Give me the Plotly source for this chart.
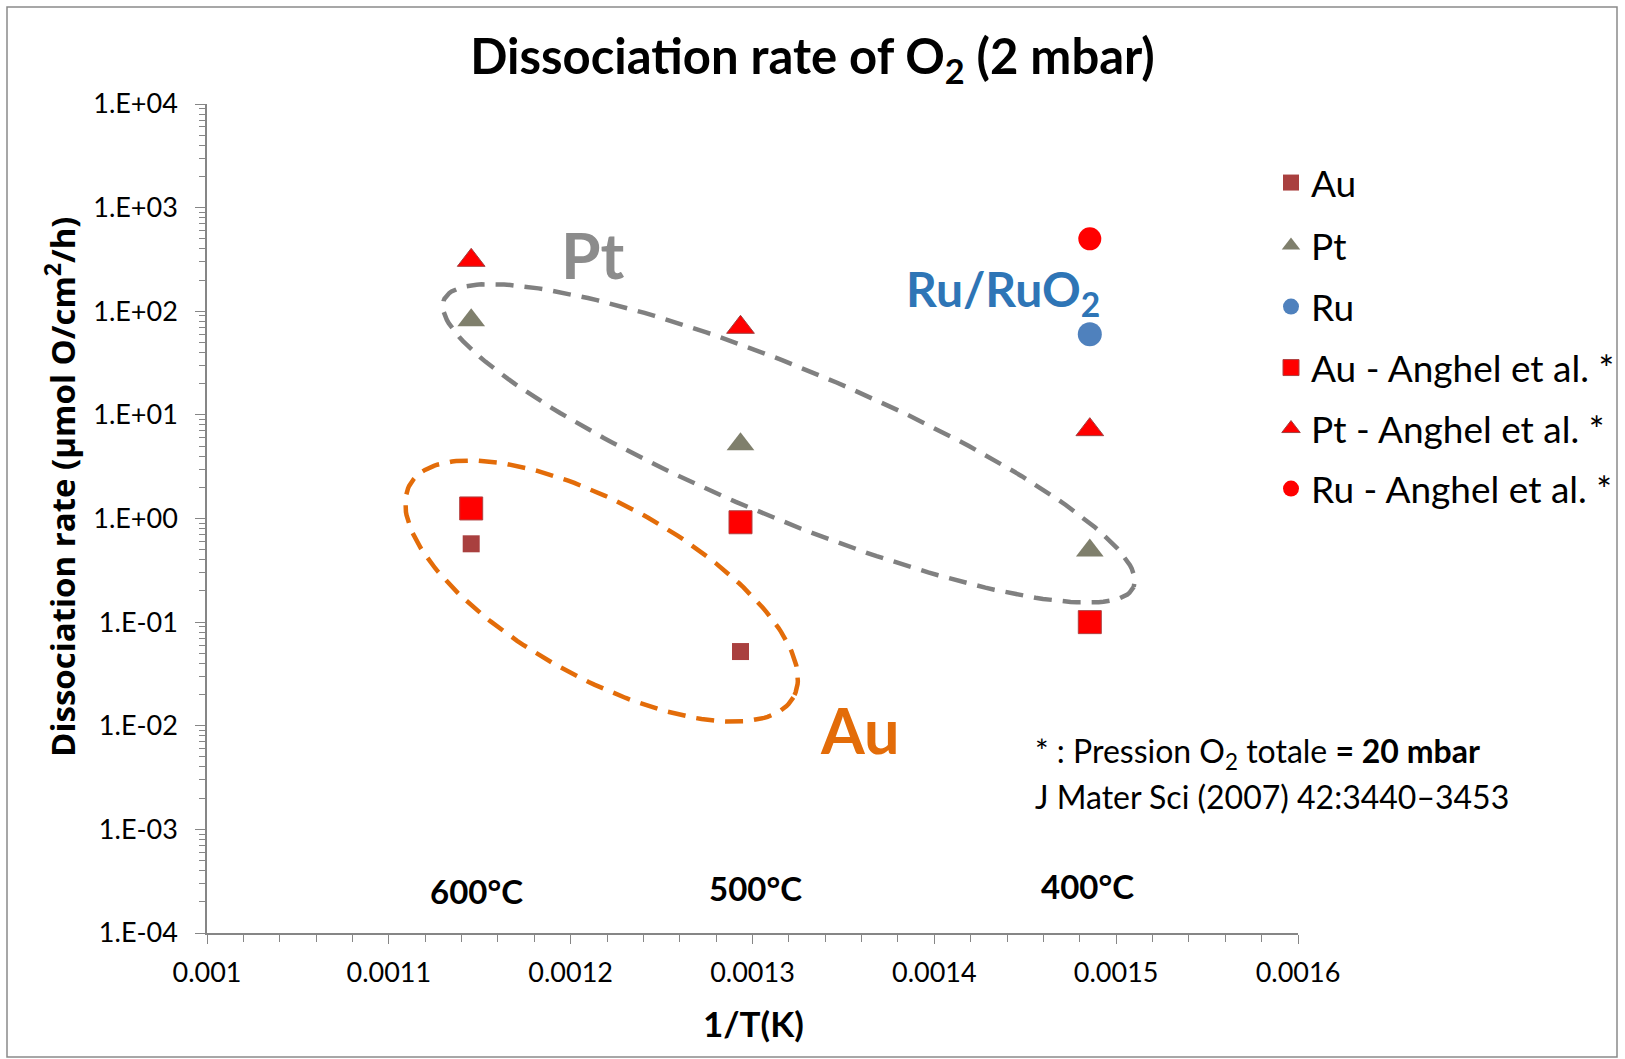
import numpy as np
import plotly.graph_objects as go

# ---------------- data ----------------
inv_T = [0.0011453, 0.0012934, 0.0014855]          # 1/T (K^-1) for 600, 500, 400 °C
temp_labels = ["600°C", "500°C", "400°C"]

au_x = [0.0011453, 0.0012934]
au_y = [0.57, 0.052]

pt_x = [0.0011453, 0.0012934, 0.0014855]
pt_y = [82, 5.2, 0.49]

ru_x = [0.0014855]
ru_y = [60]

au_ang_x = [0.0011453, 0.0012934, 0.0014855]
au_ang_y = [1.25, 0.92, 0.10]

pt_ang_x = [0.0011453, 0.0012934, 0.0014855]
pt_ang_y = [310, 70, 7.2]

ru_ang_x = [0.0014855]
ru_ang_y = [500]

y_tick_vals = [1e-4, 1e-3, 1e-2, 1e-1, 1e0, 1e1, 1e2, 1e3, 1e4]
y_tick_text = ["1.E-04", "1.E-03", "1.E-02", "1.E-01", "1.E+00",
               "1.E+01", "1.E+02", "1.E+03", "1.E+04"]
x_tick_vals = [0.001, 0.0011, 0.0012, 0.0013, 0.0014, 0.0015, 0.0016]
x_tick_text = ["0.001", "0.0011", "0.0012", "0.0013", "0.0014", "0.0015", "0.0016"]

# ---------------- figure ----------------
W, H = 1625, 1059
ML, MR, MT, MB = 207, 327, 104, 126
PW, PH = W - ML - MR, H - MT - MB

FONT = "Lato, 'Open Sans', sans-serif"


def py(full_y):
    return 1 - (full_y - MT) / PH


def px(full_x):
    return (full_x - ML) / PW


def ellipse(xc, lyc, a, b, theta_deg, n=200):
    """Ellipse drawn in plot-space units: 1 unit = one decade vertically,
    and the same on-screen length horizontally."""
    th = np.radians(theta_deg)
    t = np.linspace(0, 2 * np.pi, n)
    dx = a * np.cos(t) * np.cos(th) - b * np.sin(t) * np.sin(th)
    dy = a * np.cos(t) * np.sin(th) + b * np.sin(t) * np.cos(th)
    px_per_dec = PH / 8.0
    px_per_x = PW / 0.0006
    xs = xc + dx * px_per_dec / px_per_x
    ys = 10 ** (lyc - dy)
    return xs, ys


fig = go.Figure()

gx, gy = ellipse(0.0013200, 0.725, 3.605, 0.72, 22.6)
fig.add_trace(go.Scatter(x=gx, y=gy, mode="lines", showlegend=False, hoverinfo="skip",
                         line=dict(color="#808080", width=4.5, dash="18px,11px")))
ox, oy = ellipse(0.0012170, -0.70, 2.116, 0.837, 29.0)
fig.add_trace(go.Scatter(x=ox, y=oy, mode="lines", showlegend=False, hoverinfo="skip",
                         line=dict(color="#E36C09", width=4.5, dash="18px,11px")))

fig.add_trace(go.Scatter(x=au_x, y=au_y, mode="markers", name="Au", legend="legend",
                         marker=dict(symbol="square", size=17, color="#A9403F")))
fig.add_trace(go.Scatter(x=pt_x, y=pt_y, mode="markers", name="Pt", legend="legend2",
                         marker=dict(symbol="triangle-up", size=24, color="#7F7F6C")))
fig.add_trace(go.Scatter(x=ru_x, y=ru_y, mode="markers", name="Ru", legend="legend3",
                         marker=dict(symbol="circle", size=24, color="#4F81BD")))
fig.add_trace(go.Scatter(x=au_ang_x, y=au_ang_y, mode="markers", name="Au - Anghel et al. *",
                         legend="legend4",
                         marker=dict(symbol="square", size=23, color="#FF0000",
                                     line=dict(color="#B04040", width=1))))
fig.add_trace(go.Scatter(x=pt_ang_x, y=pt_ang_y, mode="markers", name="Pt - Anghel et al. *",
                         legend="legend5",
                         marker=dict(symbol="triangle-up", size=24, color="#FF0000",
                                     line=dict(color="#A04040", width=1))))
fig.add_trace(go.Scatter(x=ru_ang_x, y=ru_ang_y, mode="markers", name="Ru - Anghel et al. *",
                         legend="legend6",
                         marker=dict(symbol="circle", size=23, color="#FF0000")))

axis_col = "#868686"
minor_y = [m * 10.0 ** k for k in range(-4, 4) for m in range(2, 10)]

fig.update_xaxes(type="linear", range=[0.001, 0.0016], tickmode="array",
                 tickvals=x_tick_vals, ticktext=x_tick_text,
                 showgrid=False, zeroline=False, showline=True, linecolor=axis_col, linewidth=1.5,
                 ticks="outside", ticklen=9, tickcolor=axis_col, tickwidth=1,
                 ticklabelstandoff=6,
                 tickfont=dict(family=FONT, size=27, color="#000"),
                 minor=dict(ticks="outside", ticklen=7, tickcolor=axis_col, dtick=0.00002,
                            tick0=0.001, showgrid=False))
fig.update_yaxes(type="log", range=[-4, 4], tickmode="array",
                 tickvals=y_tick_vals, ticktext=y_tick_text,
                 showgrid=False, zeroline=False, showline=True, linecolor=axis_col, linewidth=1.5,
                 ticks="outside", ticklen=10, tickcolor=axis_col, tickwidth=1,
                 ticklabelstandoff=12,
                 tickfont=dict(family=FONT, size=27, color="#000"),
                 minor=dict(ticks="outside", ticklen=6, tickcolor=axis_col, tickmode="array",
                            tickvals=minor_y, showgrid=False))


def note(text, x, y, size, color="#000", xanchor="center", **kw):
    return dict(text=text, x=x, y=y, xref="paper", yref="paper", showarrow=False,
                xanchor=xanchor, yanchor="middle",
                font=dict(family=kw.pop("family", FONT), size=size, color=color), **kw)


ann = []
# axis titles
ann.append(note("<b>Dissociation rate (µmol O/cm<sup>2</sup>/h)</b>", px(60), py(487), 33,
                textangle=-90, family="'Open Sans', sans-serif"))
ann.append(note("<b>1/T(K)</b>", px(753), py(1023), 35))
# temperature labels
for xv, lab, xs, yf in zip(inv_T, temp_labels, [5, 15, -2], [891, 888, 886]):
    ann.append(dict(text="<b>" + lab + "</b>", x=xv, y=py(yf), xref="x", yref="paper",
                    xanchor="center", yanchor="middle",
                    xshift=xs, showarrow=False, font=dict(family=FONT, size=33, color="#000")))
# group labels
ann.append(note("<b>Pt</b>", px(593), py(254), 64, color="#8C8C8C"))
ann.append(note("<b>Au</b>", px(860), py(729), 63, color="#E36C09"))
ann.append(note("<b>Ru/RuO<sub>2</sub></b>", px(1003), py(292), 48, color="#2E75B6"))
# notes
ann.append(note("* : Pression O<sub>2</sub> totale <b>= 20 mbar</b>", px(1033), py(753), 32,
                xanchor="left"))
ann.append(note("J Mater Sci (2007) 42:3440–3453", px(1033), py(796), 32, xanchor="left"))

legend_centers = [183, 246, 307, 368, 429, 489]
legend_style = dict(xanchor="left", yanchor="middle", bgcolor="rgba(0,0,0,0)",
                    font=dict(family=FONT, size=37, color="#000"), itemsizing="trace")
legends = {}
for i, yc in enumerate(legend_centers):
    key = "legend" if i == 0 else f"legend{i + 1}"
    legends[key] = dict(x=px(1271), y=py(yc), **legend_style)

fig.update_layout(
    width=W, height=H, margin=dict(l=ML, r=MR, t=MT, b=MB, autoexpand=False),
    paper_bgcolor="white", plot_bgcolor="white",
    title=dict(text="<b>Dissociation rate of O<sub>2</sub> (2 mbar)</b>", x=0.5, xref="container",
               xanchor="center", y=1 - 57 / H, yanchor="middle",
               font=dict(family=FONT, size=49, color="#000")),
    annotations=ann,
    shapes=[dict(type="rect", xref="paper", yref="paper",
                 x0=px(7), x1=px(1617), y0=py(1057), y1=py(7),
                 line=dict(color="#8A8A8A", width=1.5), layer="below")],
    **legends,
)

fig.write_html("out.html")
